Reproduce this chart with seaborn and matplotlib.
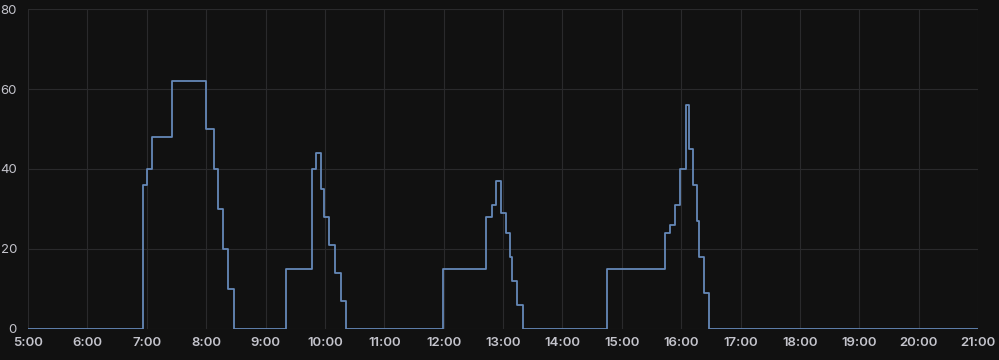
import matplotlib
matplotlib.use("Agg")
import matplotlib.pyplot as plt
import seaborn as sns
import pandas as pd

# ---- data ----
times = ["05:00",
         "06:56", "07:00", "07:05", "07:26", "08:00", "08:08", "08:12", "08:17", "08:22", "08:28",
         "09:21", "09:47", "09:51", "09:56", "09:59", "10:04", "10:10", "10:16", "10:21",
         "11:59", "12:43", "12:49", "12:53", "12:58", "13:03", "13:07", "13:09", "13:14", "13:20",
         "14:45", "15:44", "15:49", "15:54", "15:59", "16:05", "16:08", "16:12", "16:16", "16:18", "16:23", "16:28",
         "21:00"]
values = [0,
          36, 40, 48, 62, 50, 40, 30, 20, 10, 0,
          15, 40, 44, 35, 28, 21, 14, 7, 0,
          15, 28, 31, 37, 29, 24, 18, 12, 6, 0,
          15, 24, 26, 31, 40, 56, 45, 36, 27, 18, 9, 0,
          0]
x_ticks = list(range(5, 22))
x_tick_labels = [f"{h}:00" for h in x_ticks]
y_ticks = [0, 20, 40, 60, 80]

def to_hours(t):
    h, m = t.split(":")
    return int(h) + int(m) / 60.0

df = pd.DataFrame({"hour": [to_hours(t) for t in times], "value": values})

BG = "#111111"
GRID = "#2a2a2c"
TEXT = "#c4c4cc"
LINE = "#6588b8"

sns.set_theme(style="dark")
plt.rcParams["font.family"] = ["Inter", "DejaVu Sans"]

fig = plt.figure(figsize=(9.99, 3.6), dpi=100, facecolor=BG)
ax = fig.add_axes([28 / 999, 1 - 328.5 / 360, 950 / 999, 319.3 / 360])
ax.set_facecolor(BG)

sns.lineplot(data=df, x="hour", y="value", drawstyle="steps-post",
             color=LINE, linewidth=1.3, ax=ax, legend=False)

ax.set_xlim(5, 21)
ax.set_ylim(0, 80)
ax.set_xticks(x_ticks)
ax.set_xticklabels(x_tick_labels)
ax.set_yticks(y_ticks)
ax.set_yticklabels([str(v) for v in y_ticks])
ax.grid(True, color=GRID, linewidth=0.8)
ax.set_axisbelow(True)
for s in ax.spines.values():
    s.set_visible(False)
ax.tick_params(axis="x", colors=TEXT, labelsize=9.5, length=0, pad=6)
ax.tick_params(axis="y", colors=TEXT, labelsize=9.5, length=0, pad=8)
for lbl in ax.get_xticklabels():
    lbl.set_fontweight("semibold")
ax.set_xlabel("")
ax.set_ylabel("")

fig.savefig("out.png", dpi=100, facecolor=BG)
